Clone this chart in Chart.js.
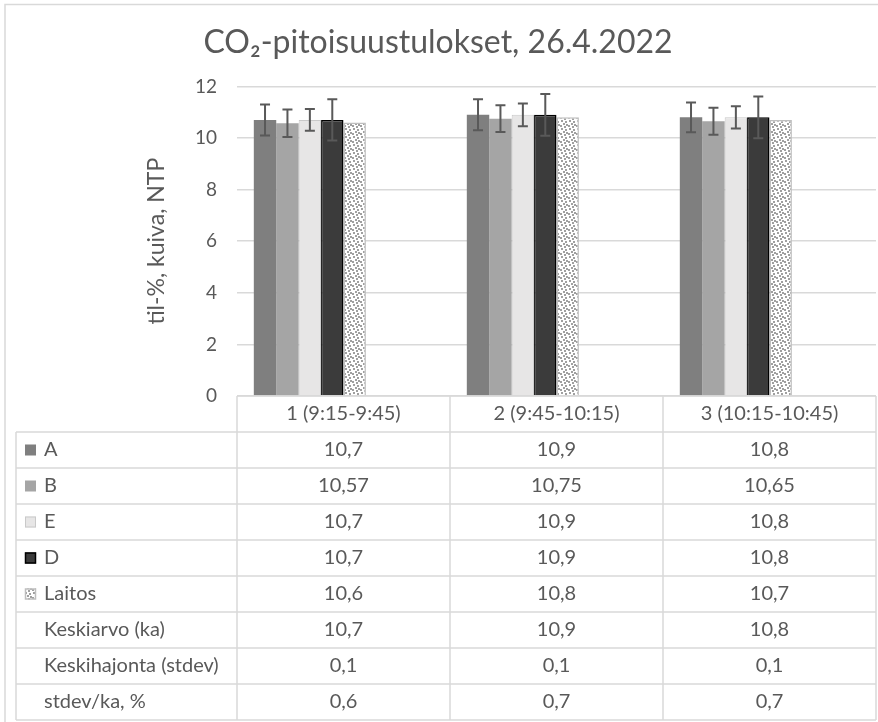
<!DOCTYPE html>
<html>
<head>
<meta charset="utf-8">
<title>CO2-pitoisuustulokset</title>
<script src="https://cdn.jsdelivr.net/npm/chart.js@4.4.0/dist/chart.umd.min.js"></script>
<style>
  html, body { margin: 0; padding: 0; background: #fff; }
  canvas { display: block; }
</style>
</head>
<body>
<canvas id="chart" width="878" height="722"></canvas>
<script>
const categories = ["1 (9:15-9:45)", "2 (9:45-10:15)", "3 (10:15-10:45)"];
const valuesA = [10.7, 10.9, 10.8];
const valuesB = [10.57, 10.75, 10.65];
const valuesE = [10.7, 10.9, 10.8];
const valuesD = [10.7, 10.9, 10.8];
const valuesLaitos = [10.6, 10.8, 10.7];
const valuesMean = [10.7, 10.9, 10.8];
const valuesStdev = [0.1, 0.1, 0.1];
const valuesRel = [0.6, 0.7, 0.7];
// error bar half-lengths
const errA = [0.6, 0.6, 0.58];
const errB = [0.53, 0.52, 0.52];
const errE = [0.42, 0.44, 0.43];
const errD = [0.8, 0.81, 0.81];
const yMin = 0, yMax = 12, yStep = 2;

const fontFamily = "Lato, 'Noto Sans', sans-serif";
const textColor = "#595959";
const lineColor = "#d9d9d9";

// small confetti pattern like Excel's fill for "Laitos"
function confetti() {
  const c = document.createElement("canvas");
  c.width = 8; c.height = 8;
  const g = c.getContext("2d");
  g.fillStyle = "#ffffff";
  g.fillRect(0, 0, 8, 8);
  g.fillStyle = "#a0a0a0";
  [[1, 0], [5, 1], [3, 3], [6, 4], [0, 5], [4, 6]].forEach(([px, py]) => g.fillRect(px, py, 2, 2));
  return g.createPattern(c, "repeat");
}
const laitosFill = confetti();

function barSet(label, data, fill, border, bw, errors, key) {
  return {
    label: label,
    data: data,
    backgroundColor: fill,
    borderColor: border,
    borderWidth: bw,
    categoryPercentage: 8 / 9.5,
    barPercentage: 1,
    errors: errors,
    key: key
  };
}

const datasets = [
  barSet("A", valuesA, "#7f7f7f", "#7f7f7f", 0, errA, true),
  barSet("B", valuesB, "#a5a5a5", "#a5a5a5", 0, errB, true),
  barSet("E", valuesE, "#e7e6e6", "#c9c9c9", 1, errE, true),
  barSet("D", valuesD, "#3b3b3b", "#000000", 1.5, errD, true),
  barSet("Laitos", valuesLaitos, laitosFill, "#bfbfbf", 1.5, null, true),
  barSet("Keskiarvo (ka)", valuesMean, "rgba(0,0,0,0)", "rgba(0,0,0,0)", 0, null, false),
  barSet("Keskihajonta (stdev)", valuesStdev, "rgba(0,0,0,0)", "rgba(0,0,0,0)", 0, null, false),
  barSet("stdev/ka, %", valuesRel, "rgba(0,0,0,0)", "rgba(0,0,0,0)", 0, null, false)
];

function fmt(v) {
  return String(v).replace(".", ",");
}

const frame = {
  id: "frame",
  beforeDraw(chart) {
    const ctx = chart.ctx;
    ctx.save();
    ctx.fillStyle = "#ffffff";
    ctx.fillRect(0, 0, chart.width, chart.height);
    ctx.strokeStyle = lineColor;
    ctx.lineWidth = 1.5;
    ctx.beginPath();
    ctx.moveTo(5, chart.height);
    ctx.lineTo(5, 4.5);
    ctx.lineTo(chart.width, 4.5);
    ctx.stroke();
    ctx.restore();
  }
};

const errorBars = {
  id: "errorBars",
  afterDatasetsDraw(chart) {
    const ctx = chart.ctx;
    const y = chart.scales.y;
    ctx.save();
    ctx.strokeStyle = "#595959";
    ctx.lineWidth = 2;
    chart.data.datasets.forEach((ds, i) => {
      if (!ds.errors) return;
      chart.getDatasetMeta(i).data.forEach((bar, j) => {
        const top = y.getPixelForValue(ds.data[j] + ds.errors[j]);
        const bot = y.getPixelForValue(ds.data[j] - ds.errors[j]);
        ctx.beginPath();
        ctx.moveTo(bar.x, top); ctx.lineTo(bar.x, bot);
        ctx.moveTo(bar.x - 5, top); ctx.lineTo(bar.x + 5, top);
        ctx.moveTo(bar.x - 5, bot); ctx.lineTo(bar.x + 5, bot);
        ctx.stroke();
      });
    });
    ctx.restore();
  }
};

// data table under the plot, columns taken from the x scale
const dataTable = {
  id: "dataTable",
  afterDraw(chart) {
    const ctx = chart.ctx;
    const x = chart.scales.x;
    const sets = chart.data.datasets;
    const colW = (x.right - x.left) / categories.length;
    const top = chart.chartArea.bottom;
    const bottom = chart.height - 2;
    const rowH = (bottom - top) / (sets.length + 1);
    const tableLeft = 16;

    ctx.save();
    ctx.strokeStyle = lineColor;
    ctx.lineWidth = 1.5;
    ctx.beginPath();
    ctx.moveTo(x.left, top); ctx.lineTo(x.right, top);
    for (let r = 1; r <= sets.length + 1; r++) {
      const yy = top + r * rowH;
      ctx.moveTo(tableLeft, yy); ctx.lineTo(x.right, yy);
    }
    ctx.moveTo(tableLeft, top + rowH); ctx.lineTo(tableLeft, bottom);
    for (let i = 0; i <= categories.length; i++) {
      const edge = i < categories.length ? x.getPixelForValue(i) - colW / 2 : x.right;
      ctx.moveTo(edge, top); ctx.lineTo(edge, bottom);
    }
    ctx.stroke();

    ctx.font = "20px " + fontFamily;
    ctx.fillStyle = textColor;
    ctx.textBaseline = "middle";
    ctx.textAlign = "center";
    categories.forEach((c, i) => ctx.fillText(c, x.getPixelForValue(i), top + rowH / 2));

    sets.forEach((ds, r) => {
      const cy = top + (r + 1.5) * rowH;
      if (ds.key) {
        ctx.fillStyle = ds.backgroundColor;
        ctx.fillRect(25, cy - 5.5, 11, 11);
        if (ds.borderWidth > 0) {
          ctx.strokeStyle = ds.borderColor;
          ctx.lineWidth = ds.borderWidth;
          ctx.strokeRect(25.5, cy - 5, 10, 10);
        }
      }
      ctx.fillStyle = textColor;
      ctx.textAlign = "left";
      ctx.fillText(ds.label, 44, cy);
      ctx.textAlign = "center";
      ds.data.forEach((v, i) => ctx.fillText(fmt(v), x.getPixelForValue(i), cy));
    });
    ctx.restore();
  }
};

Chart.defaults.font.family = fontFamily;
Chart.defaults.color = textColor;

new Chart(document.getElementById("chart"), {
  type: "bar",
  data: { labels: categories, datasets: datasets },
  options: {
    responsive: false,
    animation: false,
    layout: { padding: { left: 0, right: 2, top: 0, bottom: 326 } },
    plugins: {
      legend: { display: false },
      tooltip: { enabled: false },
      title: {
        display: true,
        text: "CO\u2082-pitoisuustulokset, 26.4.2022",
        color: textColor,
        font: { size: 32, weight: "normal" },
        padding: { top: 23, bottom: 25 }
      }
    },
    scales: {
      x: { display: false },
      y: {
        min: yMin,
        max: yMax,
        ticks: { stepSize: yStep, padding: 20, color: textColor, font: { size: 19 } },
        grid: { color: lineColor, lineWidth: 1.5, drawTicks: false },
        border: { display: false },
        title: {
          display: true,
          text: "til-%, kuiva, NTP",
          color: textColor,
          font: { size: 23 },
          padding: { top: 143, bottom: 0 }
        },
        afterFit(scale) { scale.width = 237; }
      }
    }
  },
  plugins: [frame, errorBars, dataTable]
});
</script>
</body>
</html>
